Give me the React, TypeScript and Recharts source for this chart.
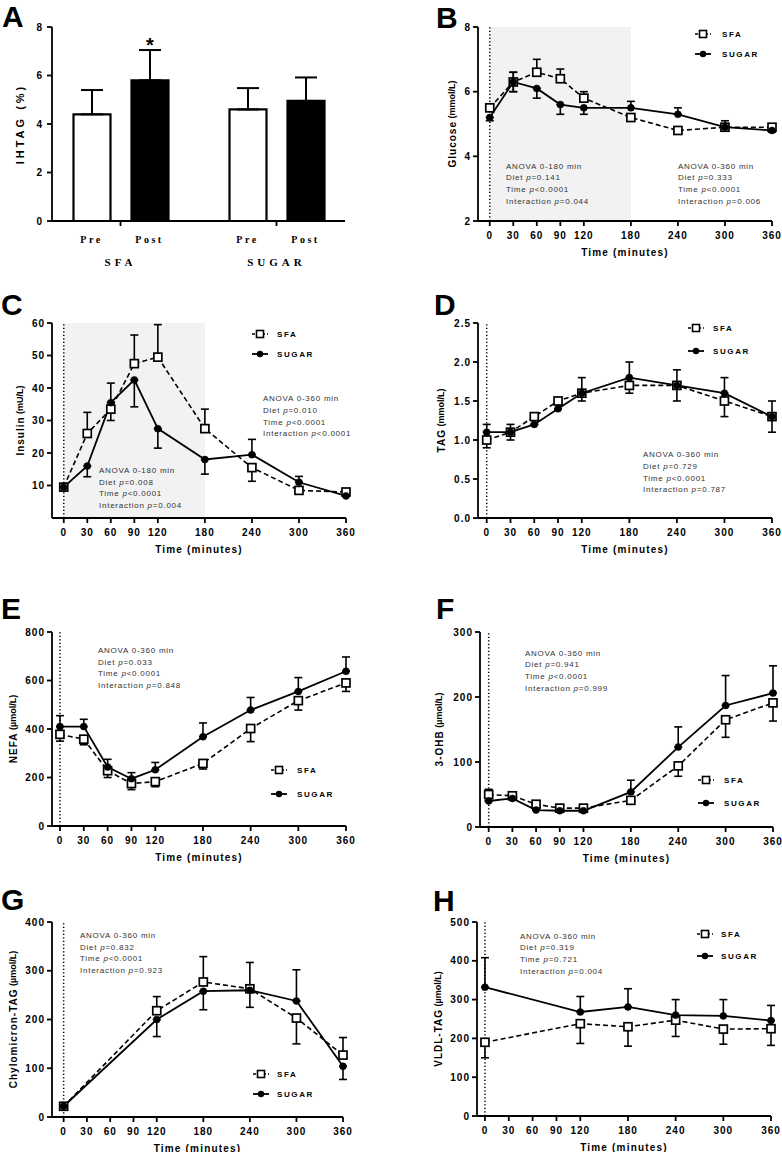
import React from 'react';
import {
  ComposedChart,
  BarChart,
  Bar,
  Line,
  XAxis,
  YAxis,
  ErrorBar,
  ReferenceArea,
  ReferenceLine,
} from 'recharts';

type Err = [number, number]; // [down, up]

const FONT = '"Liberation Sans", Arial, Helvetica, sans-serif';
const SERIF = '"Liberation Serif", "Times New Roman", serif';

const timePoints = [0, 30, 60, 90, 120, 180, 240, 300, 360];
const lipidTimePoints = [0, 120, 180, 240, 300, 360];
const timeTicks = [0, 30, 60, 90, 120, 180, 240, 300, 360];

// A - IHTAG
const ihtagGroups = ['SFA', 'SUGAR'];
const ihtagPre = [4.4, 4.6];
const ihtagPreErr: Err[] = [[0, 1.0], [0, 0.88]];
const ihtagPost = [5.8, 4.95];
const ihtagPostErr: Err[] = [[0, 1.25], [0, 0.97]];

// B - glucose
const glucoseSfa = [5.5, 6.3, 6.6, 6.4, 5.8, 5.2, 4.8, 4.9, 4.9];
const glucoseSfaErr: Err[] = [[0.05, 0.05], [0.3, 0.3], [0, 0.4], [0, 0.3], [0, 0.2], [0.05, 0.05], [0.05, 0.05], [0.1, 0.1], [0.05, 0.05]];
const glucoseSugar = [5.2, 6.3, 6.1, 5.6, 5.5, 5.5, 5.3, 4.9, 4.8];
const glucoseSugarErr: Err[] = [[0.1, 0], [0.3, 0.3], [0.3, 0], [0.3, 0], [0.2, 0], [0, 0.2], [0, 0.2], [0, 0.2], [0.05, 0]];

// C - insulin
const insulinSfa = [9.5, 26, 33.5, 47.5, 49.5, 27.5, 15.5, 8.5, 8];
const insulinSfaErr: Err[] = [[0, 0], [0, 6.5], [3.5, 0], [0, 8.8], [0, 10], [0, 6], [4.2, 0], [0.8, 0], [0.5, 0]];
const insulinSugar = [9.5, 16, 35.5, 42.5, 27.5, 18, 19.5, 11, 6.8];
const insulinSugarErr: Err[] = [[0, 0], [3.3, 0], [0, 6], [8.3, 0], [6, 0], [4.5, 0], [0, 4.7], [0, 1.8], [0, 0]];

// D - TAG
const tagSfa = [1.0, 1.1, 1.3, 1.5, 1.6, 1.7, 1.7, 1.5, 1.3];
const tagSfaErr: Err[] = [[0.1, 0], [0.1, 0], [0, 0], [0, 0], [0.1, 0], [0.1, 0], [0.2, 0], [0.2, 0], [0.2, 0]];
const tagSugar = [1.1, 1.1, 1.2, 1.4, 1.6, 1.8, 1.7, 1.6, 1.3];
const tagSugarErr: Err[] = [[0, 0.1], [0, 0.1], [0, 0], [0, 0], [0, 0.2], [0, 0.2], [0, 0.2], [0, 0.2], [0, 0.2]];

// E - NEFA
const nefaSfa = [378, 358, 228, 175, 183, 258, 402, 517, 590];
const nefaSfaErr: Err[] = [[28, 0], [23, 0], [28, 0], [25, 0], [21, 0], [23, 0], [54, 0], [39, 0], [35, 0]];
const nefaSugar = [410, 410, 243, 195, 232, 368, 478, 555, 638];
const nefaSugarErr: Err[] = [[0, 45], [0, 30], [0, 32], [0, 25], [0, 30], [0, 57], [0, 52], [0, 57], [0, 59]];

// F - 3-OHB
const ohbSfa = [50, 48, 35, 29, 29, 41, 94, 165, 191];
const ohbSfaErr: Err[] = [[0, 8], [0, 2], [0, 0], [0, 0], [0, 0], [0, 0], [16, 0], [27, 0], [28, 0]];
const ohbSugar = [40, 44, 26, 25, 25, 54, 123, 187, 206];
const ohbSugarErr: Err[] = [[0, 0], [0, 0], [0, 0], [0, 0], [0, 0], [0, 18], [0, 31], [0, 46], [0, 42]];

// G - chylomicron-TAG
const chyloSfa = [22, 218, 277, 263, 203, 127];
const chyloSfaErr: Err[] = [[0, 0], [0, 29], [0, 52], [0, 0], [53, 0], [0, 36]];
const chyloSugar = [22, 200, 258, 260, 238, 104];
const chyloSugarErr: Err[] = [[0, 0], [35, 0], [38, 0], [35, 57], [0, 64], [27, 0]];

// H - VLDL-TAG
const vldlSfa = [190, 238, 230, 247, 224, 225];
const vldlSfaErr: Err[] = [[40, 0], [51, 0], [50, 0], [42, 0], [39, 0], [43, 0]];
const vldlSugar = [332, 268, 281, 260, 258, 246];
const vldlSugarErr: Err[] = [[0, 76], [0, 40], [0, 47], [0, 40], [0, 42], [0, 39]];

const Y_AXIS_W = 40;
const X_AXIS_H = 30;

type Note = { x: number; y: number; range: string; diet: string; time: string; inter: string };

type TimeCfg = {
  letter: string;
  letterX: number;
  letterY: number;
  x0: number;
  y0: number;
  h: number;
  plot: [number, number, number, number];
  xMin: number;
  yDomain: [number, number];
  yTicks: number[];
  yFmt?: (v: number) => string;
  yTitle: [string, string];
  yTitleX: number;
  times: number[];
  sfa: number[];
  sfaErr: Err[];
  sugar: number[];
  sugarErr: Err[];
  shade?: boolean;
  notes: Note[];
  legend: { cx: number; y1: number; y2: number; tx: number };
};

const panels: TimeCfg[] = [
  {
    letter: 'B', letterX: 436, letterY: 28, x0: 391, y0: 0, h: 290,
    plot: [478, 27, 772, 221], xMin: -15, yDomain: [2, 8], yTicks: [2, 4, 6, 8],
    yTitle: ['Glucose', ' (mmol/L)'], yTitleX: 452,
    times: timePoints, sfa: glucoseSfa, sfaErr: glucoseSfaErr, sugar: glucoseSugar, sugarErr: glucoseSugarErr,
    shade: true,
    notes: [
      { x: 506, y: 165.7, range: '0-180', diet: '=0.141', time: '<0.0001', inter: '=0.044' },
      { x: 678, y: 165.7, range: '0-360', diet: '=0.333', time: '<0.0001', inter: '=0.006' },
    ],
    legend: { cx: 703, y1: 34, y2: 54, tx: 722 },
  },
  {
    letter: 'C', letterX: 1, letterY: 315, x0: 0, y0: 290, h: 290,
    plot: [52, 323, 346, 518], xMin: -15, yDomain: [0, 60], yTicks: [10, 20, 30, 40, 50, 60],
    yTitle: ['Insulin', ' (mU/L)'], yTitleX: 20,
    times: timePoints, sfa: insulinSfa, sfaErr: insulinSfaErr, sugar: insulinSugar, sugarErr: insulinSugarErr,
    shade: true,
    notes: [
      { x: 99, y: 470, range: '0-180', diet: '=0.008', time: '<0.0001', inter: '=0.004' },
      { x: 263, y: 398.3, range: '0-360', diet: '=0.010', time: '<0.0001', inter: '<0.0001' },
    ],
    legend: { cx: 260, y1: 334, y2: 354, tx: 277 },
  },
  {
    letter: 'D', letterX: 434, letterY: 315, x0: 391, y0: 290, h: 290,
    plot: [478, 323, 772, 518], xMin: -11, yDomain: [0, 2.5], yTicks: [0, 0.5, 1, 1.5, 2, 2.5],
    yFmt: (v: number) => v.toFixed(1),
    yTitle: ['TAG', ' (mmol/L)'], yTitleX: 441,
    times: timePoints, sfa: tagSfa, sfaErr: tagSfaErr, sugar: tagSugar, sugarErr: tagSugarErr,
    notes: [{ x: 643, y: 454.3, range: '0-360', diet: '=0.729', time: '<0.0001', inter: '=0.787' }],
    legend: { cx: 696, y1: 328, y2: 351, tx: 713 },
  },
  {
    letter: 'E', letterX: 1, letterY: 619, x0: 0, y0: 580, h: 290,
    plot: [52, 632, 346, 826], xMin: -10, yDomain: [0, 800], yTicks: [0, 200, 400, 600, 800],
    yTitle: ['NEFA', ' (\u00b5mol/L)'], yTitleX: 13,
    times: timePoints, sfa: nefaSfa, sfaErr: nefaSfaErr, sugar: nefaSugar, sugarErr: nefaSugarErr,
    notes: [{ x: 98, y: 650, range: '0-360', diet: '=0.033', time: '<0.0001', inter: '=0.848' }],
    legend: { cx: 279, y1: 770, y2: 794, tx: 297 },
  },
  {
    letter: 'F', letterX: 436, letterY: 619, x0: 391, y0: 580, h: 290,
    plot: [480, 632, 773, 827], xMin: -11, yDomain: [0, 300], yTicks: [0, 100, 200, 300],
    yTitle: ['3-OHB', ' (\u00b5mol/L)'], yTitleX: 439,
    times: timePoints, sfa: ohbSfa, sfaErr: ohbSfaErr, sugar: ohbSugar, sugarErr: ohbSugarErr,
    notes: [{ x: 525, y: 652.7, range: '0-360', diet: '=0.941', time: '<0.0001', inter: '=0.999' }],
    legend: { cx: 706, y1: 780, y2: 803, tx: 724 },
  },
  {
    letter: 'G', letterX: 1, letterY: 910, x0: 0, y0: 870, h: 282,
    plot: [52, 922, 343, 1117], xMin: -15, yDomain: [0, 400], yTicks: [0, 100, 200, 300, 400],
    yTitle: ['Chylomicron-TAG', ' (\u00b5mol/L)'], yTitleX: 13,
    times: lipidTimePoints, sfa: chyloSfa, sfaErr: chyloSfaErr, sugar: chyloSugar, sugarErr: chyloSugarErr,
    notes: [{ x: 80, y: 935, range: '0-360', diet: '=0.832', time: '<0.0001', inter: '=0.923' }],
    legend: { cx: 261, y1: 1074, y2: 1094, tx: 277 },
  },
  {
    letter: 'H', letterX: 433, letterY: 911, x0: 391, y0: 870, h: 282,
    plot: [477, 922, 771, 1116], xMin: -10, yDomain: [0, 500], yTicks: [0, 100, 200, 300, 400, 500],
    yTitle: ['VLDL-TAG', ' (\u00b5mol/L)'], yTitleX: 438,
    times: lipidTimePoints, sfa: vldlSfa, sfaErr: vldlSfaErr, sugar: vldlSugar, sugarErr: vldlSugarErr,
    notes: [{ x: 520, y: 935.7, range: '0-360', diet: '=0.319', time: '=0.721', inter: '=0.004' }],
    legend: { cx: 705, y1: 934, y2: 956, tx: 721 },
  },
];

const axisStroke = { stroke: '#000', strokeWidth: 1.8 };
const tickStyle = {
  fill: '#000',
  fontSize: 10,
  fontWeight: 700,
  fontFamily: FONT,
  letterSpacing: 1,
  style: { letterSpacing: '1px' },
};

const squareDot = (p: any) => {
  if (p.cx == null || p.cy == null) return <g key={`sq-${p.index}`} />;
  return (
    <rect
      key={`sq-${p.index}`}
      x={p.cx - 4}
      y={p.cy - 4}
      width={8}
      height={8}
      fill="#fff"
      stroke="#000"
      strokeWidth={1.7}
    />
  );
};

function TimePanel({ cfg }: { cfg: TimeCfg }) {
  const [l, t, r, b] = cfg.plot;
  const rows = cfg.times.map((time, i) => ({
    t: time,
    sfa: cfg.sfa[i],
    sfaErr: cfg.sfaErr[i],
    sugar: cfg.sugar[i],
    sugarErr: cfg.sugarErr[i],
  }));
  return (
    <div style={{ position: 'absolute', left: cfg.x0, top: cfg.y0 }}>
      <ComposedChart
        width={391}
        height={cfg.h}
        data={rows}
        margin={{
          top: t - cfg.y0,
          right: cfg.x0 + 391 - r,
          bottom: cfg.y0 + cfg.h - b - X_AXIS_H,
          left: l - cfg.x0 - Y_AXIS_W,
        }}
      >
        {cfg.shade && (
          <ReferenceArea
            x1={0}
            x2={180}
            y1={cfg.yDomain[0]}
            y2={cfg.yDomain[1]}
            fill="#f2f2f2"
            fillOpacity={1}
            stroke="none"
          />
        )}
        <XAxis
          type="number"
          dataKey="t"
          domain={[cfg.xMin, 360]}
          ticks={timeTicks}
          interval={0}
          height={X_AXIS_H}
          tickSize={5}
          tickMargin={6}
          axisLine={axisStroke}
          tickLine={axisStroke}
          tick={tickStyle}
        />
        <YAxis
          type="number"
          domain={cfg.yDomain}
          ticks={cfg.yTicks}
          interval={0}
          width={Y_AXIS_W}
          tickSize={5}
          tickMargin={2}
          tickFormatter={cfg.yFmt}
          axisLine={axisStroke}
          tickLine={axisStroke}
          tick={tickStyle}
        />
        <ReferenceLine x={0} stroke="#000" strokeWidth={1.5} strokeDasharray="1.2 2.3" />
        <Line
          type="linear"
          dataKey="sfa"
          stroke="#000"
          strokeWidth={1.6}
          strokeDasharray="5 3"
          dot={squareDot}
          activeDot={false}
          isAnimationActive={false}
        >
          <ErrorBar dataKey="sfaErr" width={4} stroke="#000" strokeWidth={1.6} direction="y" />
        </Line>
        <Line
          type="linear"
          dataKey="sugar"
          stroke="#000"
          strokeWidth={1.8}
          dot={{ r: 3.5, fill: '#000', stroke: '#000', strokeWidth: 0.5 }}
          activeDot={false}
          isAnimationActive={false}
        >
          <ErrorBar dataKey="sugarErr" width={4} stroke="#000" strokeWidth={1.6} direction="y" />
        </Line>
      </ComposedChart>
    </div>
  );
}

const GroupTick = (props: any) => {
  const { x, y, payload } = props;
  const small = { fontFamily: SERIF, fontWeight: 700, fontSize: 10, fill: '#000', style: { letterSpacing: '2.5px' } };
  const big = { fontFamily: SERIF, fontWeight: 700, fontSize: 11, fill: '#000', style: { letterSpacing: '4px' } };
  return (
    <g>
      <text x={x - 29} y={y + 15} textAnchor="middle" {...small}>Pre</text>
      <text x={x + 29} y={y + 15} textAnchor="middle" {...small}>Post</text>
      <text x={x} y={y + 38} textAnchor="middle" {...big}>{payload.value}</text>
    </g>
  );
};

function IhtagPanel() {
  const rows = ihtagGroups.map((g, i) => ({
    group: g,
    pre: ihtagPre[i],
    preErr: ihtagPreErr[i],
    post: ihtagPost[i],
    postErr: ihtagPostErr[i],
  }));
  const star = (p: any) => {
    if (p.index !== 0) return <g key={`st-${p.index}`} />;
    const errTop = p.y - (ihtagPostErr[0][1] * p.height) / p.value;
    return (
      <text
        key={`st-${p.index}`}
        x={p.x + p.width / 2}
        y={errTop + 2}
        textAnchor="middle"
        fontFamily={FONT}
        fontWeight={700}
        fontSize={20}
        fill="#000"
      >
        *
      </text>
    );
  };
  return (
    <div style={{ position: 'absolute', left: 0, top: 0 }}>
      <BarChart
        width={391}
        height={290}
        data={rows}
        barSize={37}
        barGap={21}
        margin={{ top: 27, right: 391 - 345, bottom: 290 - 221 - 50, left: 52 - Y_AXIS_W }}
      >
        <XAxis
          dataKey="group"
          padding={{ left: -9.5, right: -9.5 }}
          height={50}
          interval={0}
          tickSize={5}
          tickMargin={2}
          axisLine={axisStroke}
          tickLine={axisStroke}
          tick={<GroupTick />}
        />
        <YAxis
          type="number"
          domain={[0, 8]}
          ticks={[0, 2, 4, 6, 8]}
          interval={0}
          width={Y_AXIS_W}
          tickSize={5}
          tickMargin={4}
          axisLine={axisStroke}
          tickLine={axisStroke}
          tick={tickStyle}
        />
        <Bar dataKey="pre" fill="#fff" stroke="#000" strokeWidth={2.2} isAnimationActive={false}>
          <ErrorBar dataKey="preErr" width={11} stroke="#000" strokeWidth={2} direction="y" />
        </Bar>
        <Bar dataKey="post" fill="#000" stroke="#000" strokeWidth={2.2} isAnimationActive={false} label={star}>
          <ErrorBar dataKey="postErr" width={11} stroke="#000" strokeWidth={2} direction="y" />
        </Bar>
      </BarChart>
    </div>
  );
}

function Letter({ x, y, c }: { x: number; y: number; c: string }) {
  return (
    <text x={x} y={y} fontFamily={FONT} fontWeight={700} fontSize={30} fill="#000">
      {c}
    </text>
  );
}

function YTitle({ x, y, parts }: { x: number; y: number; parts: [string, string] }) {
  return (
    <text
      x={x}
      y={y}
      transform={`rotate(-90 ${x} ${y})`}
      textAnchor="middle"
      dominantBaseline="central"
      fontFamily={FONT}
      fontWeight={700}
      fill="#000"
    >
      <tspan fontSize={10} style={{ letterSpacing: '1px' }}>{parts[0]}</tspan>
      <tspan fontSize={9} style={{ letterSpacing: '0px' }}>{parts[1]}</tspan>
    </text>
  );
}

function AnovaNote({ n }: { n: Note }) {
  const base = { fontFamily: FONT, fontSize: 8, fill: '#333', style: { letterSpacing: '0.75px' } };
  const gap = 11.7;
  const rows: [string, string][] = [
    ['Diet ', n.diet],
    ['Time ', n.time],
    ['Interaction ', n.inter],
  ];
  return (
    <g>
      <text x={n.x} y={n.y + 3} {...base}>{`ANOVA ${n.range} min`}</text>
      {rows.map(([label, val], i) => (
        <text key={label} x={n.x} y={n.y + 3 + gap * (i + 1)} {...base}>
          {label}
          <tspan fontStyle="italic">p</tspan>
          {val}
        </text>
      ))}
    </g>
  );
}

function LegendBox({ cx, y1, y2, tx }: { cx: number; y1: number; y2: number; tx: number }) {
  const txt = { fontFamily: FONT, fontWeight: 700, fontSize: 8, fill: '#000', style: { letterSpacing: '1.6px' } };
  return (
    <g>
      <line x1={cx - 8} x2={cx + 8} y1={y1} y2={y1} stroke="#000" strokeWidth={1.6} strokeDasharray="3 2" />
      <rect x={cx - 3.5} y={y1 - 3.5} width={7} height={7} fill="#fff" stroke="#000" strokeWidth={1.6} />
      <text x={tx} y={y1 + 3} {...txt}>SFA</text>
      <line x1={cx - 8} x2={cx + 8} y1={y2} y2={y2} stroke="#000" strokeWidth={1.8} />
      <circle cx={cx} cy={y2} r={3.2} fill="#000" />
      <text x={tx} y={y2 + 3} {...txt}>SUGAR</text>
    </g>
  );
}

export default function App() {
  return (
    <div style={{ position: 'absolute', left: 0, top: 0, width: 782, height: 1152, background: '#fff' }}>
      <IhtagPanel />
      {panels.map((p) => (
        <TimePanel key={p.letter} cfg={p} />
      ))}
      <svg width={782} height={1152} style={{ position: 'absolute', left: 0, top: 0, pointerEvents: 'none' }}>
        <Letter x={2} y={27} c="A" />
        <text
          x={20}
          y={124}
          transform="rotate(-90 20 124)"
          textAnchor="middle"
          dominantBaseline="central"
          fontFamily={FONT}
          fontWeight={700}
          fontSize={11}
          fill="#000"
          style={{ letterSpacing: '3px' }}
        >
          IHTAG (%)
        </text>
        {panels.map((p) => {
          const [l, t, r, b] = p.plot;
          return (
            <g key={p.letter}>
              <Letter x={p.letterX} y={p.letterY} c={p.letter} />
              <YTitle x={p.yTitleX} y={(t + b) / 2} parts={p.yTitle} />
              <text
                x={(l + r) / 2}
                y={b + 34.5}
                textAnchor="middle"
                fontFamily={FONT}
                fontWeight={700}
                fontSize={10}
                fill="#000"
                style={{ letterSpacing: '1.2px' }}
              >
                Time (minutes)
              </text>
              {p.notes.map((n, i) => (
                <AnovaNote key={i} n={n} />
              ))}
              <LegendBox {...p.legend} />
            </g>
          );
        })}
      </svg>
    </div>
  );
}
